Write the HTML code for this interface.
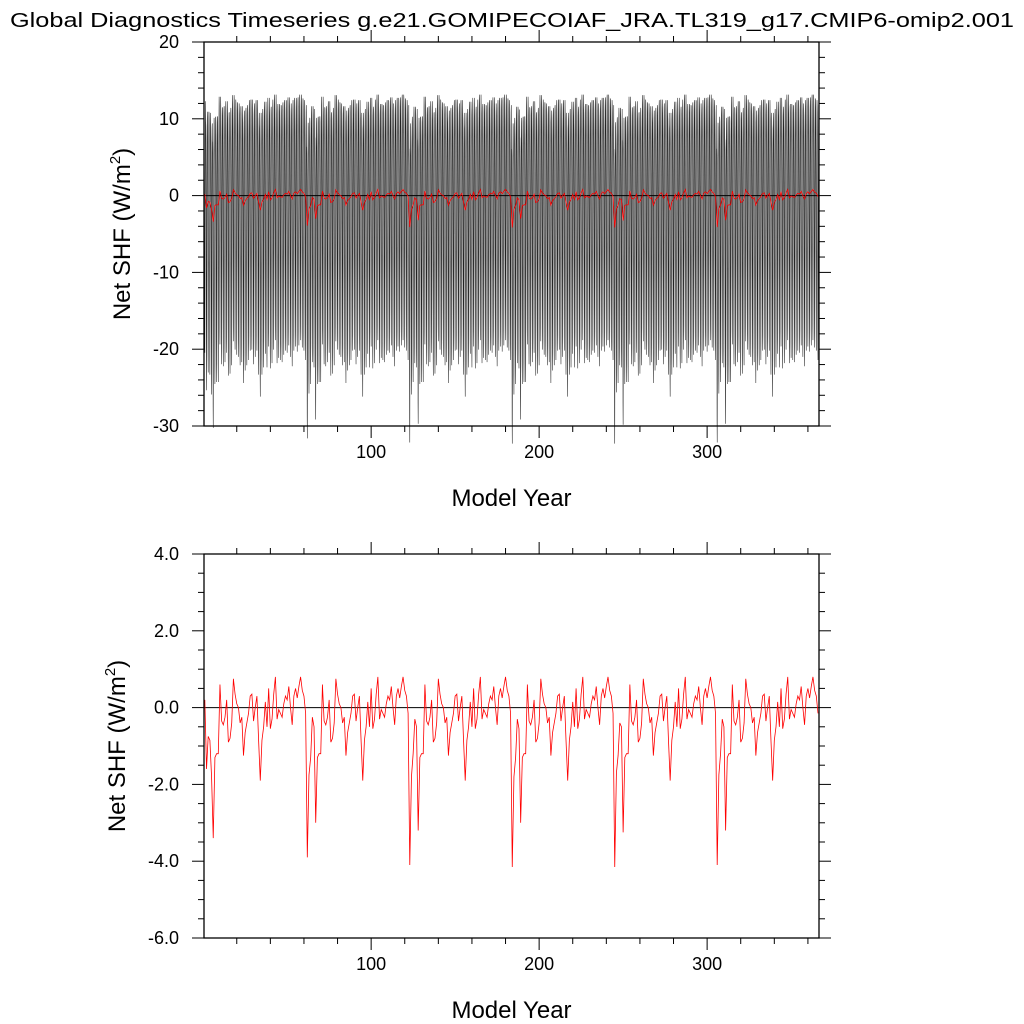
<!DOCTYPE html>
<html><head><meta charset="utf-8"><style>
html,body{margin:0;padding:0;background:#fff}
svg{display:block;font-family:"Liberation Sans",sans-serif}
</style></head><body>
<svg id="chart" width="1024" height="1024" viewBox="0 0 1024 1024" xmlns="http://www.w3.org/2000/svg">
<rect width="1024" height="1024" fill="#fff"/>
<text x="10" y="27" font-size="20" textLength="1004" lengthAdjust="spacingAndGlyphs">Global Diagnostics Timeseries g.e21.GOMIPECOIAF_JRA.TL319_g17.CMIP6-omip2.001</text>
<g id="top"></g><g id="bot"></g>
</svg>
<script>
// annual mean values (red series), 6 cycles of 61 years
const cycleHead1 = [0.2,-1.6,-0.75,-0.85,-1.8,-3.4];
const cycleHead2 = [-3.9,-1.75,-1.3,-0.25,-0.5,-3.0];
const cycleHead3 = [-4.1,-1.8,-1.2,-0.3,-0.5,-3.2];
const cycleHead4 = [-4.15,-1.8,-1.3,-0.3,-0.55,-3.0];
const cycleHead5 = [-4.15,-1.7,-1.25,-0.4,-0.5,-3.25];
const cycleHead6 = [-4.1,-1.75,-1.2,-0.3,-0.5,-3.2];
const cycleTail = [-1.3,-1.2,-1.2,0.6,-0.35,-0.45,-0.25,0.2,-0.9,-0.8,-0.4,0.75,0.35,0.1,0,-0.4,-0.25,-1.25,-0.65,-0.4,-0.15,0.3,0.35,-0.35,0,0.3,-0.85,-1.9,-0.85,-0.5,0.15,-0.5,0.5,-0.55,-0.3,0.35,0.8,-0.3,-0.05,-0.15,-0.25,0.1,0.3,0.2,0.55,0,-0.45,0.3,0.5,0.25,0.55,0.8,0.45,0.3,-0.15];
const redValues = [].concat(cycleHead1,cycleTail,cycleHead2,cycleTail,cycleHead3,cycleTail,cycleHead4,cycleTail,cycleHead5,cycleTail,cycleHead6,cycleTail);
// monthly climatology (W/m2) used for the monthly (black) series
const monthlyClim = [12,11,7,0,-10,-19,-21,-15,-5,3,9,12];
const monthlyAmpl = [1.2,1.0,0.6,0.2,0.8,1.4,1.6,1.2,0.5,0.2,0.8,1.2];
const xTicks = [100,200,300];
const topYTicks = [20,10,0,-10,-20,-30];
const topYLabels = ["20","10","0","-10","-20","-30"];
const botYTicks = [4,2,0,-2,-4,-6];
const botYLabels = ["4.0","2.0","0.0","-2.0","-4.0","-6.0"];

const NS="http://www.w3.org/2000/svg";
function mk(p,t,a){const e=document.createElementNS(NS,t);for(const k in a)e.setAttribute(k,a[k]);p.appendChild(e);return e;}
const L=204,R=819,X0=0.5,X1=366.6;
const xs=v=>L+(v-X0)/(X1-X0)*(R-L);

function panel(g,T,B,ymin,ymax,yt,yl,ymin2,ymaxStep,showBlack){
  const ys=v=>B-(v-ymin)/(ymax-ymin)*(B-T);
  // black monthly
  if(showBlack){
    let d="";
    redValues.forEach((r,i)=>{for(let m=0;m<12;m++){
      const v=monthlyClim[m]+r*monthlyAmpl[m]*1.2+(monthlyClim[m]<0?r*0.8:0);
      const x=xs(i+1-0.5+m/12);d+=(d?"L":"M")+x.toFixed(2)+","+ys(v).toFixed(2);}});
    const p=mk(g,"path",{d:d,fill:"none",stroke:"#222","stroke-width":"0.55"});
    
    
  }
  const z=mk(g,"line",{x1:L,x2:R,y1:ys(0),y2:ys(0),stroke:"#000","stroke-width":"1"});
  
  
  let d="";redValues.forEach((v,i)=>{d+=(i?"L":"M")+xs(i+1).toFixed(2)+","+ys(v).toFixed(2);});
  const rp=mk(g,"path",{d:d,fill:"none",stroke:"#f00","stroke-width":"0.8"});
  
  
  const f=mk(g,"rect",{x:L,y:T,width:R-L,height:B-T,fill:"none",stroke:"#000","stroke-width":"1.3"});
  
  
  // x ticks
  for(let v=20;v<X1;v+=20){const maj=v%100==0,l=maj?12:6,x=xs(v);
    mk(g,"line",{x1:x,x2:x,y1:B,y2:B+l,stroke:"#000","stroke-width":"1"});
    mk(g,"line",{x1:x,x2:x,y1:T,y2:T-l,stroke:"#000","stroke-width":"1"});}
  xTicks.forEach(v=>{const t=mk(g,"text",{x:xs(v),y:B+32,"font-size":"18","text-anchor":"middle"});t.textContent=v;
    
    });
  // y ticks
  for(let v=ymin;v<=ymax+1e-9;v+=ymaxStep){const maj=yt.some(t=>Math.abs(t-v)<1e-6),l=maj?12:6,y=ys(v);
    mk(g,"line",{x1:L-l,x2:L,y1:y,y2:y,stroke:"#000","stroke-width":"1"});
    mk(g,"line",{x1:R,x2:R+l,y1:y,y2:y,stroke:"#000","stroke-width":"1"});}
  yt.forEach((v,i)=>{const t=mk(g,"text",{x:L-25,y:ys(v)+6,"font-size":"18","text-anchor":"end"});t.textContent=yl[i];
    
    });
  const xt=mk(g,"text",{x:(L+R)/2+0,y:B+80,"font-size":"24","text-anchor":"middle"});xt.textContent="Model Year";
  
  
  const cy=(T+B)/2;
  const yt2=mk(g,"text",{x:0,y:0,"font-size":"24","text-anchor":"middle",transform:`translate(${ymin2},${cy}) rotate(-90)`});
  yt2.innerHTML='Net SHF (W/m<tspan font-size="15" dy="-10">2</tspan><tspan dy="10">)</tspan>';
  
  
}
const gt=document.getElementById("top");


const gb=document.getElementById("bot");


panel(gt,42,426,-30,20,topYTicks,topYLabels,130,2,true);
panel(gb,554,938,-6,4,botYTicks,botYLabels,125,0.5,false);
</script>
</body></html>
